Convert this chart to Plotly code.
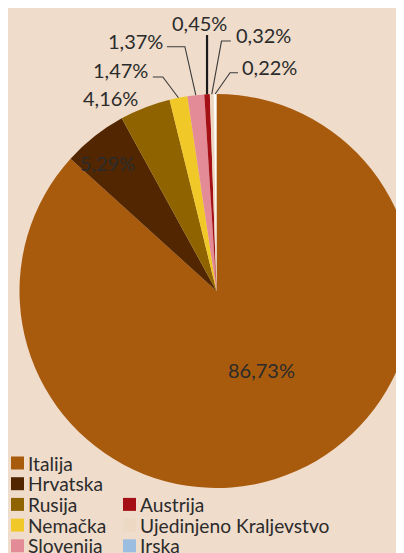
import math
import plotly.graph_objects as go

# ---------------- data ----------------
countries = ["Italija", "Hrvatska", "Rusija", "Nemačka", "Slovenija",
             "Austrija", "Ujedinjeno Kraljevstvo", "Irska"]
shares = [86.73, 5.29, 4.16, 1.47, 1.37, 0.45, 0.32, 0.22]

# ---------------- style ----------------
legend_colors = ["#a85a0d", "#512600", "#8f6400", "#f0c828", "#e38c97",
                 "#a41015", "#edd8c3", "#9bbde0"]
slice_colors = legend_colors[:-1] + ["#fdfdfd"]
BG = "#efdccb"
TXT = "#2b2b2b"
FONT = "Lato"

PAGE_OFF = 8                      # page body margin of the rendered html
CX, CY, R = 216.5, 291.0, 197.0   # target pie centre / radius in window pixels
W = int(round(2 * (CX - PAGE_OFF)))   # wide enough that the pie is cropped by the window
H = 553

def px(x):
    return (x - PAGE_OFF) / W

def py(y):
    return 1 - (y - PAGE_OFF) / H

def fmt(v):
    return f"{v:.2f}".replace(".", ",") + "%"

# mid angles of slices (clockwise from 12 o'clock)
total = sum(shares)
mids = []
acc = 0.0
for v in shares:
    mids.append((acc + v / 2) / total * 360.0)
    acc += v

def polar(theta, r):
    t = math.radians(theta)
    return CX + r * math.sin(t), CY - r * math.cos(t)

fig = go.Figure()
fig.add_trace(go.Pie(
    labels=countries,
    values=shares,
    sort=False,
    direction="clockwise",
    rotation=0,
    marker=dict(colors=slice_colors, line=dict(width=0)),
    textinfo="none",
    hoverinfo="label+percent",
    showlegend=False,
    domain=dict(x=[0, 1], y=[py(CY + R), py(CY - R)]),
))

annotations = []
shapes = []

# label placement styles: kind, elbow offset from slice edge, horizontal run, text offset
label_style = {
    "Italija":   dict(kind="inside", rf=0.463, off=(8, -4)),
    "Hrvatska":  dict(kind="inside", rf=0.851, off=(-5, 4)),
    "Rusija":    dict(kind="plain", off=(-5, -9)),
    "Nemačka":   dict(kind="elbow", elbow=(-15.6, -20.7), run=-10, toff=(-3, -7)),
    "Slovenija": dict(kind="elbow", elbow=(-10.9, -48.4), run=-18, toff=(-2, -6)),
    "Austrija":  dict(kind="vertical", elbow=(0, -59.2), toff=(-8, -12.5)),
    "Ujedinjeno Kraljevstvo": dict(kind="elbow", elbow=(9.7, -53.0), run=9.3, toff=(3, -6)),
    "Irska":     dict(kind="elbow", elbow=(14.9, -21.3), run=8, toff=(2, -6)),
}

lab_font = dict(family=FONT, size=20, color=TXT)
for name, v, th in zip(countries, shares, mids):
    st = label_style[name]
    text = fmt(v)
    if st["kind"] == "inside":
        x, y = polar(th, st["rf"] * R)
        x += st["off"][0]; y += st["off"][1]
        annotations.append(dict(x=px(x), y=py(y), xref="paper", yref="paper", text=text,
                                showarrow=False, xanchor="center", yanchor="middle", font=lab_font))
    elif st["kind"] == "plain":
        ex, ey = polar(th, R)
        annotations.append(dict(x=px(ex + st["off"][0]), y=py(ey + st["off"][1]), xref="paper",
                                yref="paper", text=text, showarrow=False, xanchor="right",
                                yanchor="middle", font=lab_font))
    elif st["kind"] == "vertical":
        ex, ey = polar(th, R)
        tx, ty = ex + st["elbow"][0], ey + st["elbow"][1]
        shapes.append(dict(type="line", xref="paper", yref="paper", x0=px(ex), y0=py(ey),
                           x1=px(tx), y1=py(ty), line=dict(color="#1a1a1a", width=2.2)))
        annotations.append(dict(x=px(tx + st["toff"][0]), y=py(ty + st["toff"][1]), xref="paper",
                                yref="paper", text=text, showarrow=False, xanchor="center",
                                yanchor="middle", font=lab_font))
    else:
        ex, ey = polar(th, R)
        bx, by = ex + st["elbow"][0], ey + st["elbow"][1]
        endx = bx + st["run"]
        path = f"M {px(ex)},{py(ey)} L {px(bx)},{py(by)} L {px(endx)},{py(by)}"
        shapes.append(dict(type="path", xref="paper", yref="paper", path=path,
                           line=dict(color="#3a3a3a", width=1.1)))
        right = st["run"] < 0
        annotations.append(dict(x=px(endx + st["toff"][0]), y=py(by + st["toff"][1]),
                                xref="paper", yref="paper", text=text, showarrow=False,
                                xanchor="right" if right else "left", yanchor="middle",
                                font=lab_font))

# legend (two columns, drawn as layout decorations)
leg_font = dict(family=FONT, size=19.2, color=TXT)
col_x = [11, 123]
row_y0, row_dy, sq = 463.0, 20.7, 13
for i, (name, c) in enumerate(zip(countries, legend_colors)):
    col = 0 if i < 5 else 1
    row = i if i < 5 else i - 3
    yc = row_y0 + row * row_dy
    x0 = col_x[col]
    shapes.append(dict(type="rect", xref="paper", yref="paper",
                       x0=px(x0), x1=px(x0 + sq), y0=py(yc - sq / 2), y1=py(yc + sq / 2),
                       fillcolor=c, line=dict(width=0)))
    annotations.append(dict(x=px(x0 + sq + 2), y=py(yc), xref="paper", yref="paper",
                            text=name, showarrow=False, xanchor="left", yanchor="middle",
                            font=leg_font))

fig.update_layout(
    width=W, height=H,
    margin=dict(l=0, r=0, t=0, b=0),
    paper_bgcolor=BG, plot_bgcolor=BG,
    separators=",.",
    annotations=annotations,
    shapes=shapes,
    font=dict(family=FONT, color=TXT),
)

fig.write_html("out.html")
